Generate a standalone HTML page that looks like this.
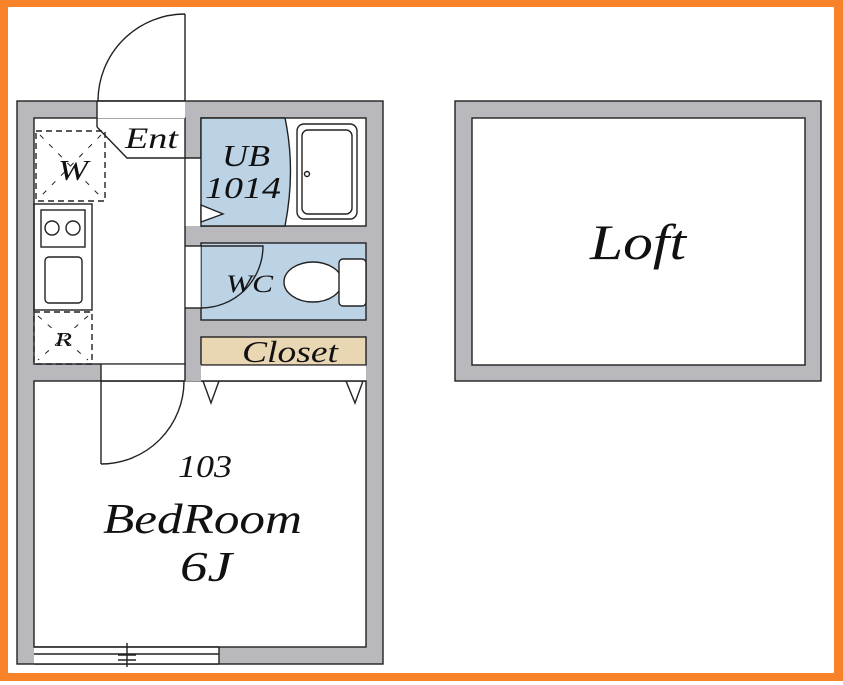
<!DOCTYPE html>
<html><head><meta charset="utf-8"><style>
html,body{margin:0;padding:0;background:#fff;}
svg{display:block;}
text{font-family:"Liberation Serif",serif;font-style:italic;fill:#111;}
</style></head><body>
<svg width="843" height="685" viewBox="0 0 843 685" xmlns="http://www.w3.org/2000/svg">
<rect x="0" y="0" width="843" height="685" fill="#fff"/>
<!-- orange frame -->
<rect x="0" y="0" width="843" height="7" fill="#f7822a"/>
<rect x="0" y="0" width="8" height="681" fill="#f7822a"/>
<rect x="834" y="0" width="9" height="681" fill="#f7822a"/>
<rect x="0" y="673" width="843" height="8" fill="#f7822a"/>

<g stroke="#222" stroke-width="1.4">
<rect x="17" y="101" width="366" height="563" fill="#b8b8bd"/>
<rect x="34" y="118" width="151" height="246" fill="#fff"/>
<rect x="201" y="118" width="165" height="108" fill="#fff"/>
<rect x="201" y="243" width="165" height="77" fill="#bcd3e6"/>
<rect x="201" y="337" width="165" height="28" fill="#e9d7b4"/>
<rect x="34" y="381" width="332" height="266" fill="#fff"/>
</g>
<rect x="97" y="101.7" width="88" height="16.6" fill="#fff"/>
<rect x="185.7" y="158" width="15" height="68" fill="#fff"/>
<rect x="185.7" y="246" width="15" height="62" fill="#fff"/>
<rect x="101" y="364.7" width="84" height="15.6" fill="#fff"/>
<rect x="201" y="365.7" width="165" height="15" fill="#fff"/>
<rect x="34" y="647.7" width="185" height="16" fill="#fff"/>
<rect x="185" y="364.7" width="16" height="16.6" fill="#b8b8bd"/>

<g stroke="#222" stroke-width="1.4" fill="none">
<line x1="185" y1="14" x2="185" y2="101"/>
<path d="M185 14 A87 87 0 0 0 98 101"/>
<line x1="97" y1="101" x2="185" y2="101"/>
<line x1="97" y1="101" x2="97" y2="127"/>
<path d="M97 127 L127 158 L201 158"/>
<path d="M201 118 L285 118 Q296 170 285 226 L201 226 Z" fill="#bcd3e6"/>
<path d="M201 205 L223 214 L201 222 Z" fill="#fff"/>
<rect x="297" y="124" width="60" height="95" rx="7" fill="#fff"/>
<rect x="302" y="130" width="50" height="84" rx="6" fill="#fff"/>
<circle cx="307" cy="174" r="2.5" fill="#fff"/>
<line x1="185" y1="246" x2="201" y2="246"/>
<line x1="185" y1="308" x2="201" y2="308"/>
<path d="M201 246 L263 246 A62 62 0 0 1 201 308"/>
<ellipse cx="313" cy="282" rx="29" ry="20" fill="#fff"/>
<rect x="339" y="259" width="27" height="47" rx="4" fill="#fff"/>
<line x1="201" y1="381" x2="366" y2="381"/>
<path d="M203 381 L211 403 L219 381"/>
<path d="M346 381 L355 403 L363 381"/>
<rect x="36" y="131" width="69" height="70" stroke-dasharray="6 4"/>
<path d="M40 135 L101 197 M101 135 L40 197" stroke-dasharray="5 8" stroke-width="1"/>
<rect x="34" y="204" width="58" height="106"/>
<rect x="41" y="210" width="44" height="37"/>
<circle cx="52" cy="228" r="7"/><circle cx="73" cy="228" r="7"/>
<rect x="45" y="257" width="37" height="46" rx="4"/>
<rect x="34" y="312" width="58" height="52" stroke-dasharray="6 4"/>
<path d="M38 316 L88 360 M88 316 L38 360" stroke-dasharray="5 8" stroke-width="1"/>
<line x1="101" y1="381" x2="185" y2="381"/>
<line x1="101" y1="364" x2="101" y2="464"/>
<path d="M101 464 A83 83 0 0 0 184 381"/>
<line x1="185" y1="364" x2="185" y2="381"/>
<line x1="34" y1="647" x2="219" y2="647"/>
<line x1="34" y1="654" x2="219" y2="654"/>
<line x1="34" y1="664" x2="219" y2="664"/>
<line x1="219" y1="647" x2="219" y2="664"/>
<line x1="127" y1="643" x2="127" y2="667"/>
<line x1="118" y1="655" x2="136" y2="655"/>
<line x1="118" y1="660" x2="136" y2="660"/>
</g>

<rect x="455" y="101" width="366" height="280" fill="#b8b8bd" stroke="#222" stroke-width="1.4"/>
<rect x="472" y="118" width="333" height="247" fill="#fff" stroke="#222" stroke-width="1.4"/>

<text x="125" y="148" font-size="30" textLength="53" lengthAdjust="spacingAndGlyphs">Ent</text>
<text x="58" y="180" font-size="28" textLength="30" lengthAdjust="spacingAndGlyphs">W</text>
<text x="55" y="346" font-size="20" textLength="17" lengthAdjust="spacingAndGlyphs">R</text>
<text x="222" y="166" font-size="31" textLength="48" lengthAdjust="spacingAndGlyphs">UB</text>
<text x="205" y="198" font-size="31" textLength="76" lengthAdjust="spacingAndGlyphs">1014</text>
<text x="226" y="292" font-size="25" textLength="47" lengthAdjust="spacingAndGlyphs">WC</text>
<text x="242" y="362" font-size="31" textLength="96" lengthAdjust="spacingAndGlyphs">Closet</text>
<text x="178" y="477" font-size="32" textLength="54" lengthAdjust="spacingAndGlyphs">103</text>
<text x="103" y="533" font-size="42" textLength="199" lengthAdjust="spacingAndGlyphs">BedRoom</text>
<text x="180" y="581" font-size="42" textLength="52" lengthAdjust="spacingAndGlyphs">6J</text>
<text x="590" y="259" font-size="50" textLength="96" lengthAdjust="spacingAndGlyphs">Loft</text>
</svg>
</body></html>
